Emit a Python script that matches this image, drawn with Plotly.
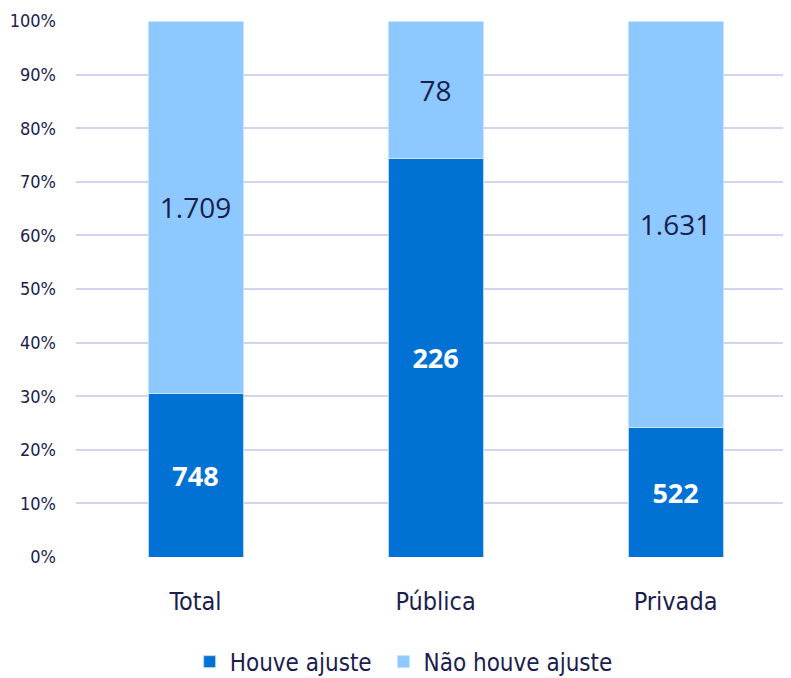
"""Stacked 100% bar chart: salary adjustment by sector."""

import plotly.graph_objects as go

categories = ["Total", "Pública", "Privada"]
houve_ajuste = [748, 226, 522]
nao_houve_ajuste = [1709, 78, 1631]
y_ticks = [0, 10, 20, 30, 40, 50, 60, 70, 80, 90, 100]
y_tick_labels = [f"{t}%" for t in y_ticks]

DARK = "#0172D4"
LIGHT = "#8DC8FF"
NAVY = "#1B1D4E"
NARROW = "Liberation Sans Narrow, DejaVu Sans Condensed, Roboto, sans-serif"
NUM_FONT = "Open Sans, Noto Sans, sans-serif"


def fmt(v):
    return f"{v:,}".replace(",", ".")


fig = go.Figure()

fig.add_trace(
    go.Bar(
        x=categories,
        y=houve_ajuste,
        name="Houve ajuste\u00a0",  # trailing nbsp widens the gap between legend items
        marker=dict(color=DARK, line=dict(color="#B8D8F8", width=1)),
        text=[fmt(v) for v in houve_ajuste],
        texttemplate="%{text}",
        textposition="inside",
        insidetextanchor="middle",
        textfont=dict(family=NUM_FONT, size=27, color="white", weight="bold"),
        constraintext="none",
    )
)

fig.add_trace(
    go.Bar(
        x=categories,
        y=nao_houve_ajuste,
        name="Não houve ajuste",
        marker=dict(color=LIGHT, line=dict(color="#C8E4FF", width=1)),
        text=[fmt(v) for v in nao_houve_ajuste],
        texttemplate="%{text}",
        textposition="inside",
        insidetextanchor="middle",
        textfont=dict(family=NUM_FONT, size=28, color=NAVY),
        constraintext="none",
    )
)

# page body has an 8px margin, so the figure is shrunk by 8px on each side used
fig.update_layout(
    barmode="stack",
    barnorm="percent",
    bargap=0.604,
    width=783,
    height=670,
    margin=dict(l=68, r=0, t=13, b=121, autoexpand=False),
    plot_bgcolor="white",
    paper_bgcolor="white",
    font=dict(family=NARROW, color=NAVY),
    xaxis=dict(
        range=[-0.498, 2.481],
        showgrid=False,
        zeroline=False,
        showline=False,
        tickfont=dict(size=25, color=NAVY),
        ticklabelstandoff=27,
    ),
    yaxis=dict(
        range=[0, 100],
        tickvals=y_ticks,
        ticktext=y_tick_labels,
        showgrid=True,
        gridcolor="#D3D3F2",
        gridwidth=2,
        zeroline=False,
        showline=False,
        tickfont=dict(size=18, color=NAVY),
        ticklabelstandoff=19,
    ),
    legend=dict(
        orientation="h",
        x=0.159,
        xanchor="left",
        y=-0.196,
        yanchor="middle",
        font=dict(size=24, color=NAVY),
        itemwidth=30,
        traceorder="normal",
    ),
    showlegend=True,
)

fig.write_html("out.html")
